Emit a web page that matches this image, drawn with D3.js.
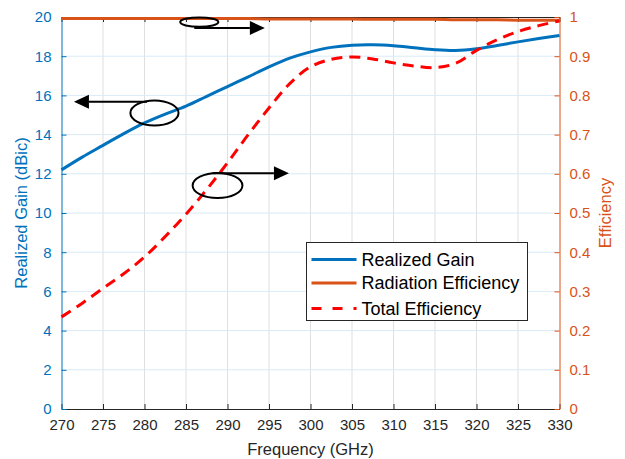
<!DOCTYPE html>
<html>
<head>
<meta charset="utf-8">
<script src="https://cdn.jsdelivr.net/npm/d3@7"></script>
<style>
  html, body { margin: 0; padding: 0; background: #fff; }
  svg { display: block; font-family: "Liberation Sans", Arial, Helvetica, sans-serif; }
</style>
</head>
<body>
<svg id="chart" width="625" height="459"></svg>
<script>
// ---- data ----
const freqGain = [270, 272.5, 275, 277.5, 280, 282.5, 285, 287.5, 290, 292.5, 295, 297.5, 300, 302.5, 305, 307.5, 310, 312.5, 315, 317.5, 320, 322.5, 325, 327.5, 330];
const realizedGain = [12.2, 12.85, 13.45, 14.05, 14.6, 15.05, 15.45, 15.95, 16.45, 16.95, 17.45, 17.9, 18.22, 18.45, 18.56, 18.58, 18.53, 18.43, 18.33, 18.29, 18.38, 18.55, 18.73, 18.9, 19.06];
const freqEff = [270, 272.5, 275, 277.5, 280, 282.5, 285, 287.5, 290, 292.5, 295, 297.5, 300, 302.5, 305, 307.5, 310, 312.5, 315, 317.5, 320, 322.5, 325, 327.5, 330];
const radiationEff = [0.996, 0.996, 0.996, 0.996, 0.996, 0.996, 0.996, 0.996, 0.996, 0.996, 0.995, 0.995, 0.995, 0.995, 0.995, 0.994, 0.994, 0.994, 0.994, 0.993, 0.993, 0.993, 0.992, 0.992, 0.992];
const totalEff = [0.235, 0.27, 0.308, 0.345, 0.388, 0.44, 0.497, 0.56, 0.628, 0.7, 0.768, 0.83, 0.873, 0.892, 0.898, 0.893, 0.883, 0.875, 0.871, 0.882, 0.915, 0.942, 0.963, 0.978, 0.99];
const xTicks = [270, 275, 280, 285, 290, 295, 300, 305, 310, 315, 320, 325, 330];
const gainTicks = [0, 2, 4, 6, 8, 10, 12, 14, 16, 18, 20];
const effTicks = [0, 0.1, 0.2, 0.3, 0.4, 0.5, 0.6, 0.7, 0.8, 0.9, 1];
const seriesNames = ["Realized Gain", "Radiation Efficiency", "Total Efficiency"];
// annotation markers (ellipse + arrow) in data units
const annotations = [
  { axis: "eff", cx: 286.6, cy: 0.987, rxF: 2.3, ryV: 0.012, lineY: 0.972, fromF: 286.0, toF: 294.5, dir: 1 },
  { axis: "gain", cx: 281.2, cy: 15.1, rxF: 2.9, ryV: 0.64, lineY: 15.68, fromF: 280.3, toF: 271.5, dir: -1 },
  { axis: "gain", cx: 288.8, cy: 11.4, rxF: 3.0, ryV: 0.64, lineY: 12.03, fromF: 288.2, toF: 297.4, dir: 1 }
];

// ---- layout ----
const M = { left: 61.5, right: 559.5, top: 17, bottom: 409 };
const blue = "#0072BD", orange = "#D95319", red = "#FF0000", dark = "#262626";

const svg = d3.select("#chart");
const x = d3.scaleLinear().domain([270, 330]).range([M.left, M.right]);
const yG = d3.scaleLinear().domain([0, 20]).range([M.bottom, M.top]);
const yE = d3.scaleLinear().domain([0, 1]).range([M.bottom, M.top]);

// grid
const grid = svg.append("g");
grid.selectAll("line.vx").data(xTicks.slice(1, -1)).join("line")
  .attr("x1", d => x(d)).attr("x2", d => x(d))
  .attr("y1", M.top).attr("y2", M.bottom)
  .attr("stroke", "#dfdfdf").attr("stroke-width", 1);
grid.selectAll("line.hy").data(gainTicks.slice(1, -1)).join("line")
  .attr("x1", M.left).attr("x2", M.right)
  .attr("y1", d => yG(d)).attr("y2", d => yG(d))
  .attr("stroke", "#d9eaf5").attr("stroke-width", 1);

// axes
const fs = 15;
const xAxis = d3.axisBottom(x).tickValues(xTicks).tickSizeInner(-5).tickSizeOuter(0).tickPadding(10);
const gx = svg.append("g").attr("transform", `translate(0,${M.bottom})`).call(xAxis);
gx.selectAll("text").attr("font-size", fs).attr("fill", dark);
gx.selectAll("line,path").attr("stroke", dark);

const xTop = d3.axisTop(x).tickValues(xTicks).tickSizeInner(-5).tickSizeOuter(0).tickFormat("");
const gxt = svg.append("g").attr("transform", `translate(0,${M.top})`).call(xTop);
gxt.selectAll("line,path").attr("stroke", dark);

const yAxisL = d3.axisLeft(yG).tickValues(gainTicks).tickSizeInner(-5).tickSizeOuter(0).tickPadding(10);
const gyl = svg.append("g").attr("transform", `translate(${M.left},0)`).call(yAxisL);
gyl.selectAll("text").attr("font-size", fs).attr("fill", blue);
gyl.selectAll("line,path").attr("stroke", blue);

const yAxisR = d3.axisRight(yE).tickValues(effTicks).tickSizeInner(-5).tickSizeOuter(0).tickPadding(10)
  .tickFormat(d3.format(".1~f"));
const gyr = svg.append("g").attr("transform", `translate(${M.right},0)`).call(yAxisR);
gyr.selectAll("text").attr("font-size", fs).attr("fill", orange);
gyr.selectAll("line,path").attr("stroke", orange);

// axis labels
svg.append("text").attr("x", (M.left + M.right) / 2).attr("y", 455)
  .attr("text-anchor", "middle").attr("font-size", 16.5).attr("fill", dark)
  .text("Frequency (GHz)");
svg.append("text").attr("transform", `translate(27,${(M.top + M.bottom) / 2}) rotate(-90)`)
  .attr("text-anchor", "middle").attr("font-size", 16.5).attr("fill", blue)
  .text("Realized Gain (dBic)");
svg.append("text").attr("transform", `translate(611,${(M.top + M.bottom) / 2}) rotate(-90)`)
  .attr("text-anchor", "middle").attr("font-size", 16.5).attr("fill", orange)
  .text("Efficiency");

// lines
const curve = d3.curveCatmullRom.alpha(0.5);
const lineG = d3.line().x((d, i) => x(freqGain[i])).y(d => yG(d)).curve(curve);
const lineE = d3.line().x((d, i) => x(freqEff[i])).y(d => yE(d)).curve(curve);

const plot = svg.append("g");
plot.append("path").attr("d", lineG(realizedGain)).attr("fill", "none")
  .attr("stroke", blue).attr("stroke-width", 3);
plot.append("path").attr("d", lineE(radiationEff)).attr("fill", "none")
  .attr("stroke", orange).attr("stroke-width", 3);
plot.append("path").attr("d", lineE(totalEff)).attr("fill", "none")
  .attr("stroke", red).attr("stroke-width", 3).attr("stroke-dasharray", "11,7");

// annotations (ellipse + arrow)
const ann = svg.append("g");
annotations.forEach(a => {
  const ys = a.axis === "gain" ? yG : yE;
  const cx = x(a.cx), cy = ys(a.cy);
  const rx = Math.abs(x(a.cx + a.rxF) - x(a.cx));
  const ry = Math.abs(ys(a.cy + a.ryV) - ys(a.cy));
  ann.append("ellipse").attr("cx", cx).attr("cy", cy).attr("rx", rx).attr("ry", ry)
    .attr("fill", "none").attr("stroke", "#000").attr("stroke-width", 2);
  const ly = ys(a.lineY);
  const x0 = x(a.fromF), tip = x(a.toF);
  const headLen = 15, headHalf = 7;
  const base = tip - a.dir * headLen;
  ann.append("line").attr("x1", x0).attr("x2", base).attr("y1", ly).attr("y2", ly)
    .attr("stroke", "#000").attr("stroke-width", 2);
  ann.append("path").attr("d", `M${tip},${ly}L${base},${ly - headHalf}L${base},${ly + headHalf}Z`)
    .attr("fill", "#000");
});

// legend
const lg = svg.append("g");
const lx = 306.5, ly0 = 242.5, lw = 221, lh = 78;
lg.append("rect").attr("x", lx).attr("y", ly0).attr("width", lw).attr("height", lh)
  .attr("fill", "#fff").attr("stroke", dark).attr("stroke-width", 1);
const rowY = [259.5, 283, 308.5];
const styles = [
  { stroke: blue, dash: null },
  { stroke: orange, dash: null },
  { stroke: red, dash: "10,11" }
];
seriesNames.forEach((name, i) => {
  lg.append("line").attr("x1", 311.5).attr("x2", 356.5).attr("y1", rowY[i]).attr("y2", rowY[i])
    .attr("stroke", styles[i].stroke).attr("stroke-width", 3)
    .attr("stroke-dasharray", styles[i].dash);
  lg.append("text").attr("x", 361.5).attr("y", rowY[i]).attr("dy", "0.35em")
    .attr("font-size", 18).attr("fill", "#000").text(name);
});
</script>
</body>
</html>
